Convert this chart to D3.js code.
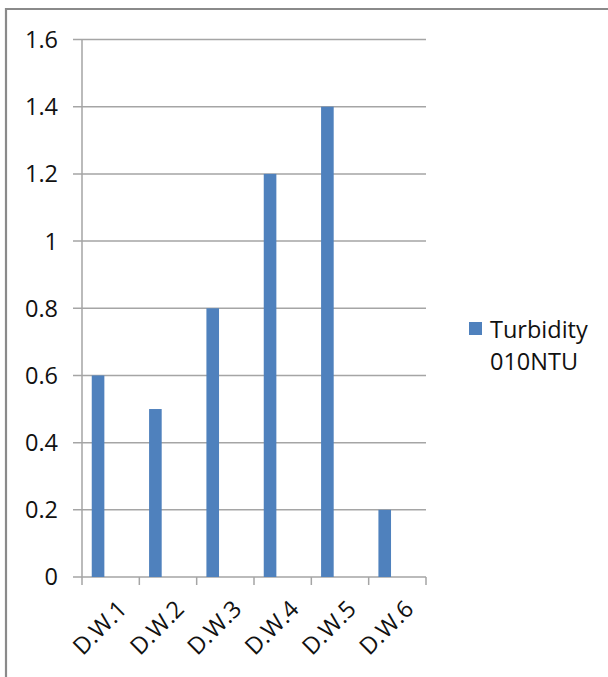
<!DOCTYPE html>
<html>
<head>
<meta charset="utf-8">
<script src="https://cdn.jsdelivr.net/npm/d3@7/dist/d3.min.js"></script>
<style>
  html, body { margin: 0; padding: 0; background: #fff; }
  svg { display: block; }
  text { font-family: "Open Sans", "DejaVu Sans", sans-serif; fill: #111; }
</style>
</head>
<body>
<svg id="chart" width="608" height="677"></svg>
<script>
// Turbidity readings per drinking-water sample
const categories = ["D.W.1", "D.W.2", "D.W.3", "D.W.4", "D.W.5", "D.W.6"];
const turbidity = [0.6, 0.5, 0.8, 1.2, 1.4, 0.2];
const yTicks = [0, 0.2, 0.4, 0.6, 0.8, 1, 1.2, 1.4, 1.6];
const seriesName = ["Turbidity", "010NTU"];

const svg = d3.select("#chart");
const plot = { left: 82, right: 426, top: 39.5, bottom: 577 };
const fontSize = 23.5;
const gridColor = "#a5a5a5";
const barColor = "#4f81bd";

// Chart frame (top and left edges)
svg.append("path")
  .attr("d", "M6,677 V9 H608")
  .attr("fill", "none")
  .attr("stroke", "#8a8a8a")
  .attr("stroke-width", 2.2);

const x = d3.scaleBand().domain(categories).range([plot.left, plot.right]).paddingInner(0).paddingOuter(0);
const y = d3.scaleLinear().domain([0, 1.6]).range([plot.bottom, plot.top]);

// Horizontal gridlines with their left tick marks
svg.append("g")
  .selectAll("line")
  .data(yTicks)
  .join("line")
  .attr("x1", plot.left - 9)
  .attr("x2", plot.right)
  .attr("y1", d => y(d))
  .attr("y2", d => y(d))
  .attr("stroke", gridColor)
  .attr("stroke-width", 1.5);

// Value axis line
svg.append("line")
  .attr("x1", plot.left).attr("x2", plot.left)
  .attr("y1", y(1.6)).attr("y2", y(0))
  .attr("stroke", gridColor).attr("stroke-width", 1.5);

// Value axis labels
svg.append("g")
  .selectAll("text")
  .data(yTicks)
  .join("text")
  .attr("x", 58)
  .attr("y", d => y(d))
  .attr("dy", "0.36em")
  .attr("text-anchor", "end")
  .attr("font-size", fontSize)
  .text(d => d3.format("")(d));

// Category axis ticks at band boundaries
const boundaries = categories.map(c => x(c)).concat([plot.right]);
svg.append("g")
  .selectAll("line")
  .data(boundaries)
  .join("line")
  .attr("x1", d => d).attr("x2", d => d)
  .attr("y1", y(0)).attr("y2", y(0) + 8)
  .attr("stroke", gridColor).attr("stroke-width", 1.5);

// Bars
const bw = x.bandwidth();
svg.append("g")
  .selectAll("rect")
  .data(turbidity)
  .join("rect")
  .attr("x", (d, i) => x(categories[i]) + bw * 0.17)
  .attr("width", bw * 0.22)
  .attr("y", d => y(d))
  .attr("height", d => y(0) - y(d))
  .attr("fill", barColor);

// Rotated category labels
svg.append("g")
  .selectAll("text")
  .data(categories)
  .join("text")
  .attr("text-anchor", "end")
  .attr("font-size", fontSize)
  .attr("transform", c => `translate(${x(c) + bw / 2 + 7},${y(0) + 23}) rotate(-45)`)
  .attr("dy", 15)
  .text(c => c);

// Legend
const legend = svg.append("g");
legend.append("rect")
  .attr("x", 469).attr("y", 322)
  .attr("width", 13).attr("height", 13)
  .attr("fill", barColor);
legend.selectAll("text")
  .data(seriesName)
  .join("text")
  .attr("x", 490)
  .attr("y", (d, i) => 338 + i * 32)
  .attr("font-size", fontSize)
  .text(d => d);
</script>
</body>
</html>
